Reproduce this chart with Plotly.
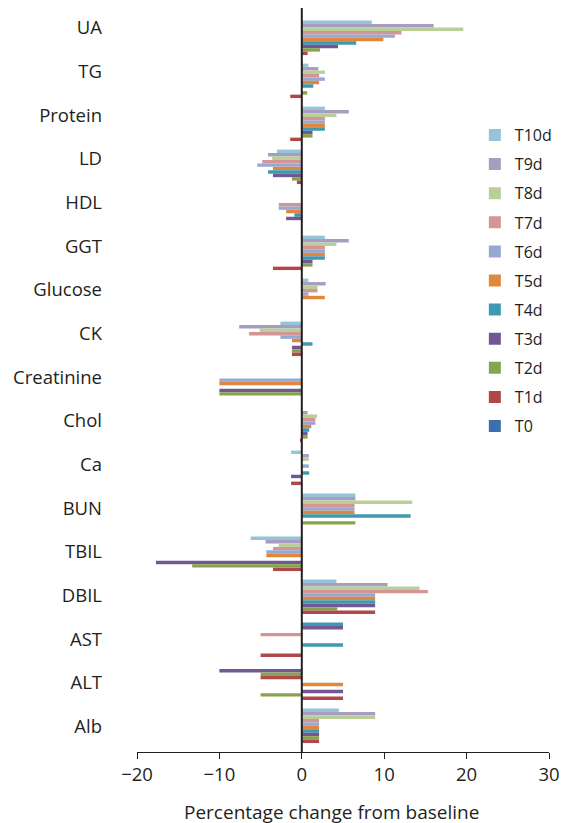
import plotly.graph_objects as go

# Analytes, listed top to bottom
categories = ["UA", "TG", "Protein", "LD", "HDL", "GGT", "Glucose", "CK", "Creatinine",
              "Chol", "Ca", "BUN", "TBIL", "DBIL", "AST", "ALT", "Alb"]

# Percentage change from baseline for each time point (same order as categories)
T10d = [8.5, 0.8, 2.8, -3.0, 0, 2.8, 0.8, -2.6, 0, 0, -1.3, 6.5, -6.2, 4.2, 5.0, 0, 4.5]
T9d = [16.0, 2.0, 5.7, -4.1, 0, 5.7, 2.9, -7.6, 0, 0.7, 0.85, 6.5, -4.4, 10.4, 5.0, -10.0, 8.9]
T8d = [19.6, 2.8, 4.2, -3.6, 0, 4.2, 1.9, -5.1, 0, 1.85, 0.85, 13.4, -2.8, 14.3, 0, -5.0, 8.9]
T7d = [12.1, 2.1, 2.8, -4.8, -2.8, 2.8, 1.9, -6.4, 0, 1.65, 0, 6.4, -3.5, 15.3, -5.0, -5.0, 2.1]
T6d = [11.3, 2.8, 2.8, -5.4, -2.8, 2.8, 0.8, -2.6, -10.0, 1.65, 0.85, 6.4, -4.3, 8.9, 0, 0, 2.1]
T5d = [9.9, 2.1, 2.8, -3.5, -1.9, 2.8, 2.8, -1.2, -10.0, 1.15, 0, 6.4, -4.3, 8.9, 0, 5.0, 2.1]
T4d = [6.6, 1.4, 2.8, -4.1, -0.9, 2.8, 0, 1.3, 0, 0.9, 0.9, 13.2, 0, 8.9, 5.0, 0, 2.1]
T3d = [4.4, 0, 1.3, -3.5, -1.9, 1.3, 0, -1.2, -10.0, 0.7, -1.3, 0, -17.7, 8.9, 0, 5.0, 2.1]
T2d = [2.2, 0.65, 1.3, -1.2, 0, 1.3, 0, -1.2, -10.0, 0.7, 0, 6.5, -13.3, 4.3, 0, -5.0, 2.1]
T1d = [0.7, -1.4, -1.4, -0.6, 0, -3.5, 0, -1.2, 0, -0.15, -1.3, 0, -3.5, 8.9, -5.0, 5.0, 2.1]
T0 = [0] * len(categories)

series_names = ["T10d", "T9d", "T8d", "T7d", "T6d", "T5d", "T4d", "T3d", "T2d", "T1d", "T0"]
series_values = [T10d, T9d, T8d, T7d, T6d, T5d, T4d, T3d, T2d, T1d, T0]

colors = {
    "T10d": "#93C5D6", "T9d": "#A99CC2", "T8d": "#B9CF97", "T7d": "#D39595",
    "T6d": "#97A9D3", "T5d": "#DF873F", "T4d": "#3E99B1", "T3d": "#6F5894",
    "T2d": "#88A34D", "T1d": "#B04748", "T0": "#3C6FAE",
}
# individual bars drawn in another series' colour
color_overrides = {
    ("AST", "T10d"): colors["T4d"], ("AST", "T9d"): colors["T3d"],
    ("ALT", "T9d"): colors["T3d"], ("ALT", "T8d"): colors["T2d"], ("ALT", "T7d"): colors["T1d"],
}

FONT = "Open Sans"
INK = "#231F20"

positions = list(range(len(categories)))
label_positions = [-0.276 + 1.016 * i for i in positions]

fig = go.Figure()
for name, vals in zip(series_names, series_values):
    bar_colors = [color_overrides.get((c, name), colors[name]) for c in categories]
    fig.add_trace(go.Bar(
        name=name, y=positions, x=vals, orientation="h",
        marker=dict(color=bar_colors, line=dict(width=0)),
        legendgroup=name,
    ))

fig.update_layout(
    width=565, height=823,
    margin=dict(l=137, r=13, t=8, b=71),
    paper_bgcolor="white", plot_bgcolor="white",
    barmode="group", bargap=0.118, bargroupgap=0,
    font=dict(family=FONT, color=INK),
    showlegend=True,
    legend=dict(
        x=0.82, y=0.852, xanchor="left", yanchor="top",
        font=dict(family=FONT, size=16, color=INK),
        bgcolor="rgba(0,0,0,0)", traceorder="grouped", tracegroupgap=5.3,
    ),
    xaxis=dict(
        range=[-20, 30], tickvals=[-20, -10, 0, 10, 20, 30], automargin=False,
        showgrid=False, zeroline=False, showline=True, linecolor=INK, linewidth=1.3,
        ticks="outside", ticklen=6, tickwidth=1.3, tickcolor=INK,
        tickfont=dict(family=FONT, size=18.5, color=INK),
    ),
    yaxis=dict(
        range=[16.569, -0.734], tickvals=label_positions, ticktext=categories,
        automargin=False,
        showgrid=False, zeroline=False, showline=False, ticks="",
        tickfont=dict(family=FONT, size=18.5, color=INK), ticklabelstandoff=34,
    ),
    shapes=[dict(type="line", xref="x", yref="paper", x0=0, x1=0, y0=0, y1=1,
                 line=dict(color=INK, width=2), layer="above")],
    annotations=[dict(text="Percentage change from baseline", xref="paper", yref="paper",
                      x=0.472, y=-0.081, xanchor="center", yanchor="middle", showarrow=False,
                      font=dict(family=FONT, size=19, color=INK))],
)

fig.write_html("out.html")
